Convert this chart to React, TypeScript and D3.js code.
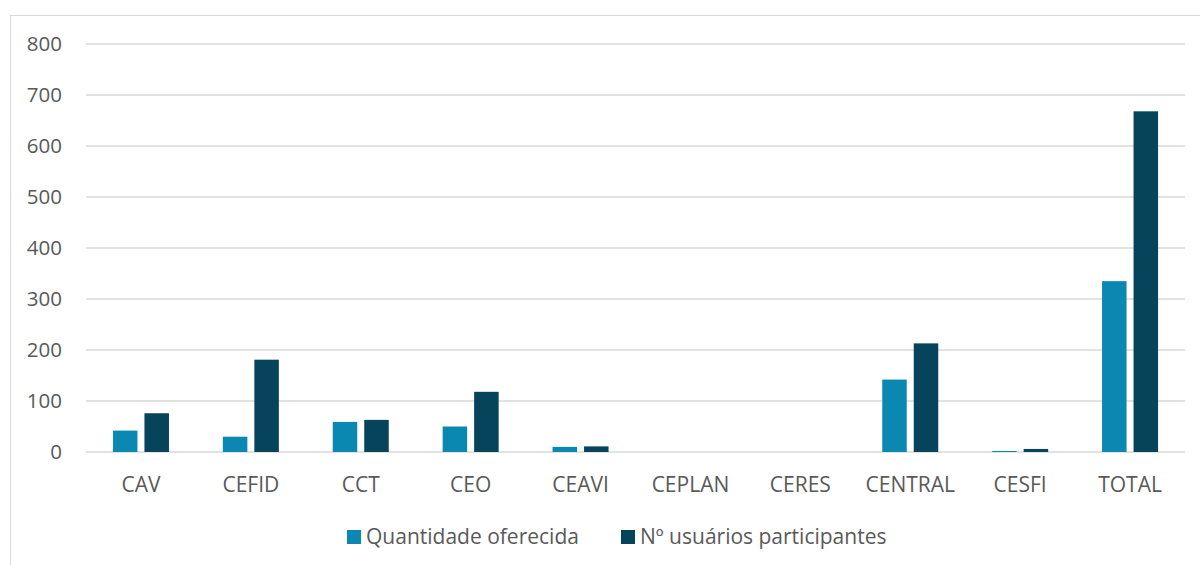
import * as d3 from "d3";

const categories = ["CAV", "CEFID", "CCT", "CEO", "CEAVI", "CEPLAN", "CERES", "CENTRAL", "CESFI", "TOTAL"];
const offered = [42, 30, 59, 50, 10, 0, 0, 142, 2, 335];
const participants = [76, 181, 63, 118, 11, 0, 0, 213, 6, 668];
const yTicks = [0, 100, 200, 300, 400, 500, 600, 700, 800];
const seriesNames = ["Quantidade oferecida", "Nº usuários participantes"];
const seriesColors = ["#0a88b2", "#05445a"];

const W = 1200;
const H = 565;
const FONT = "'Open Sans', sans-serif";
const TEXT = "#595959";

export default function App() {
  const x = d3.scaleBand<string>().domain(categories).range([86, 1185]);
  const y = d3.scaleLinear().domain([0, 800]).range([452, 44]);

  // the two bars sit in the middle 56px of each category
  const bw = x.bandwidth();
  const inner = d3
    .scaleBand<number>()
    .domain([0, 1])
    .range([bw / 2 - 28, bw / 2 + 28])
    .paddingInner(0.222);

  const series = [offered, participants];

  return (
    <svg
      width={W}
      height={H}
      style={{ position: "absolute", left: 0, top: 0, background: "#fff" }}
      fontFamily={FONT}
    >
      <rect x={10.5} y={15.5} width={W} height={H} fill="#fff" stroke="#d9d9d9" />

      {yTicks.map((t) => (
        <g key={t}>
          <line x1={86} x2={1185} y1={y(t)} y2={y(t)} stroke="#d9d9d9" strokeWidth={1.5} />
          <text x={62} y={y(t)} dy="0.36em" textAnchor="end" fontSize={20.5} fill={TEXT}>
            {t}
          </text>
        </g>
      ))}

      {categories.map((c, i) => (
        <g key={c} transform={`translate(${x(c)},0)`}>
          {series.map((vals, s) => (
            <rect
              key={s}
              x={inner(s)}
              y={y(vals[i])}
              width={inner.bandwidth()}
              height={y(0) - y(vals[i])}
              fill={seriesColors[s]}
            />
          ))}
          <text x={bw / 2} y={492} textAnchor="middle" fontSize={21} fill={TEXT}>
            {c}
          </text>
        </g>
      ))}

      {seriesNames.map((n, s) => {
        const lx = [347, 621][s];
        return (
          <g key={n}>
            <rect x={lx} y={530} width={14} height={14} fill={seriesColors[s]} />
            <text x={lx + 19} y={544} fontSize={21} fill={TEXT}>
              {n}
            </text>
          </g>
        );
      })}
    </svg>
  );
}
